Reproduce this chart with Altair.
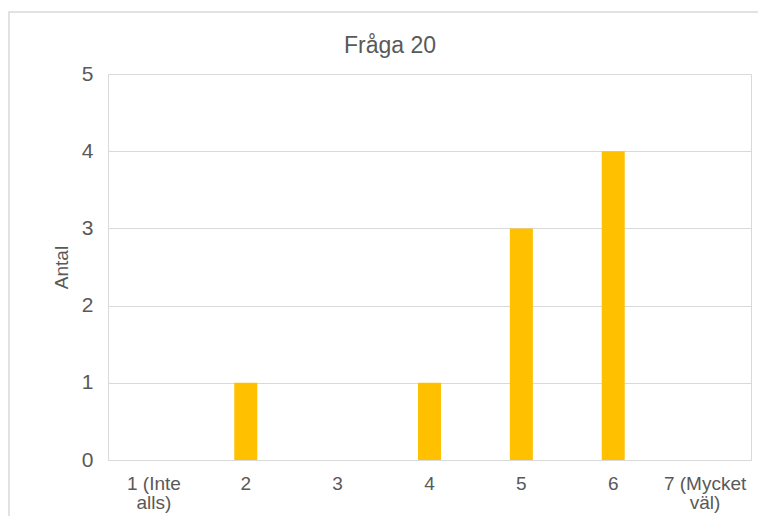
import altair as alt
import pandas as pd

categories = ["1 (Inte\nalls)", "2", "3", "4", "5", "6", "7 (Mycket\nväl)"]
counts = [0, 1, 0, 1, 3, 4, 0]
chart_title = "Fråga 20"

df = pd.DataFrame({"kategori": categories, "antal": counts})

FONT = "Liberation Sans"
GREY = "#595959"
LINE = "#d9d9d9"

bars = alt.Chart(df).mark_bar(color="#FFC000", size=23).encode(
    x=alt.X("kategori:N", sort=categories, title=None,
            scale=alt.Scale(paddingInner=0, paddingOuter=0),
            axis=alt.Axis(labelAngle=0, labelExpr="split(datum.label, '\\n')",
                          labelFontSize=19, labelColor=GREY, labelFont=FONT,
                          labelPadding=14, ticks=False, domainColor=LINE,
                          labelLineHeight=19, labelBaseline="top")),
    y=alt.Y("antal:Q", title="Antal", scale=alt.Scale(domain=[0, 5]),
            axis=alt.Axis(values=[0, 1, 2, 3, 4, 5], labelFontSize=21, labelColor=GREY,
                          labelFont=FONT, labelPadding=15, ticks=False, domain=False,
                          gridColor=LINE, titleFontSize=19, titleColor=GREY,
                          titleFont=FONT, titleFontWeight="normal", titlePadding=10)),
)

frame = alt.Chart(alt.Data(values=[{}])).mark_rect(
    fill="transparent", stroke=LINE, strokeWidth=1.5
).encode(
    x=alt.value(-99), x2=alt.value(720), y=alt.value(-62), y2=alt.value(520)
)

title = alt.Chart(alt.Data(values=[{"t": chart_title}])).mark_text(
    fontSize=23, color=GREY, font=FONT, align="center", baseline="alphabetic"
).encode(
    x=alt.value(282), y=alt.value(-21), text="t:N"
)

chart = alt.layer(frame, bars, title).properties(
    width=643, height=386,
    autosize=alt.AutoSizeParams(type="none"),
    padding={"left": 100, "top": 66, "right": 7, "bottom": 56},
).configure_view(stroke=LINE, strokeWidth=1)

chart.save("out.html", embed_options={"renderer": "svg", "actions": False})
